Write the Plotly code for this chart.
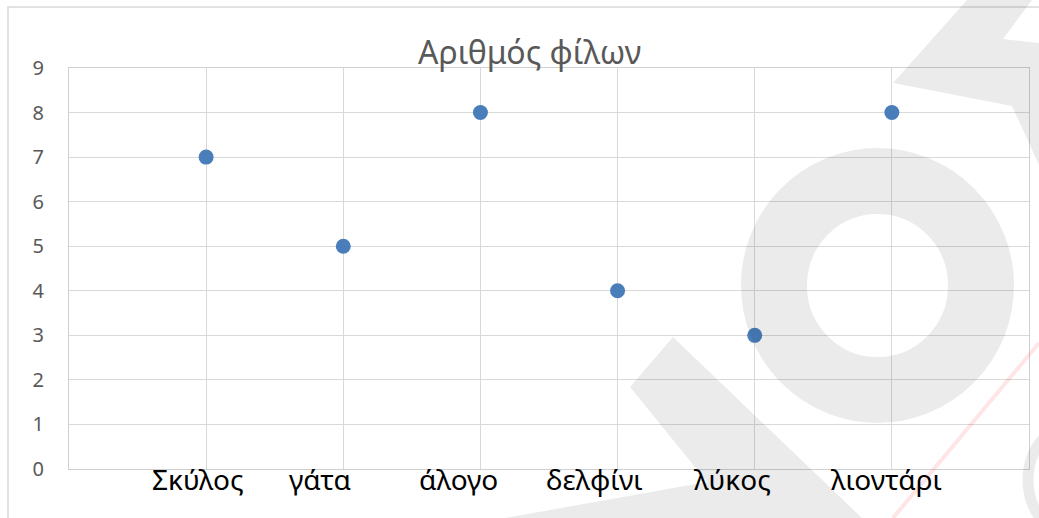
import plotly.graph_objects as go

# ---- data ----
categories = ["Σκύλος", "γάτα", "άλογο", "δελφίνι", "λύκος", "λιοντάρι"]
friends = [7, 5, 8, 4, 3, 8]
y_ticks = [0, 1, 2, 3, 4, 5, 6, 7, 8, 9]
title_text = "Αριθμός φίλων"

# ---- layout constants (pixels) ----
W, H = 1039, 518
L, R, T, B = 69, 1029, 68, 469
label_dx = [-8, -23, -22, -23, -22, -5]

def fx(x):
    return (x - L) / (R - L)

def fy(y):
    return (B - y) / (B - T)

xpos = list(range(1, len(categories) + 1))

fig = go.Figure()
fig.add_trace(go.Scatter(
    x=xpos, y=friends, mode="markers",
    marker=dict(color="#4A7EBB", size=15, line=dict(width=0)),
    showlegend=False, hoverinfo="skip", cliponaxis=False,
))

annotations = []
for i, (c, dx) in enumerate(zip(categories, label_dx)):
    annotations.append(dict(
        x=xpos[i], y=0, xref="x", yref="y", text=c, showarrow=False,
        xanchor="center", yanchor="middle", xshift=dx, yshift=-10,
        font=dict(family="Noto Sans", size=28, color="#000000"),
    ))
annotations.append(dict(
    x=fx(529), y=fy(51), xref="paper", yref="paper", text=title_text,
    showarrow=False, xanchor="center", yanchor="middle",
    font=dict(family="Noto Sans", size=32, color="#595959"),
))

wm = "rgba(0,0,0,0.08)"
shapes = [
    # chart area border
    dict(type="rect", xref="paper", yref="paper", x0=fx(8), y0=fy(7), x1=fx(1060), y1=fy(540),
         line=dict(color="#d9d9d9", width=1.5), fillcolor="rgba(0,0,0,0)", layer="below"),
    # watermark ring
    dict(type="circle", xref="paper", yref="paper", x0=fx(774), x1=fx(981), y0=fy(181), y1=fy(390),
         line=dict(color=wm, width=66), fillcolor="rgba(0,0,0,0)", layer="above"),
    # small ring bottom right
    dict(type="circle", xref="paper", yref="paper", x0=fx(1028), x1=fx(1156), y0=fy(416), y1=fy(544),
         line=dict(color=wm, width=11), fillcolor="rgba(0,0,0,0)", layer="above"),
    # top-right band
    dict(type="path", xref="paper", yref="paper",
         path="M {} {} L {} {} L {} {} L {} {} L {} {} L {} {} L {} {} Z".format(
             fx(967), fy(0), fx(1032), fy(0), fx(1003), fy(39), fx(1039), fy(43),
             fx(1039), fy(165), fx(1012), fy(106), fx(893), fy(83)),
         fillcolor=wm, line=dict(width=0), layer="above"),
    # lower triangle band
    dict(type="path", xref="paper", yref="paper",
         path="M {} {} L {} {} L {} {} L {} {} L {} {} Z".format(
             fx(673), fy(337), fx(862), fy(518), fx(505), fy(518), fx(707), fy(482), fx(630), fy(387)),
         fillcolor=wm, line=dict(width=0), layer="above"),
    # red diagonal line
    dict(type="line", xref="paper", yref="paper", x0=fx(893), y0=fy(518), x1=fx(1039), y1=fy(343),
         line=dict(color="rgba(255,0,0,0.10)", width=4), layer="above"),
]

fig.update_layout(
    width=W, height=H,
    margin=dict(l=L, r=W - R, t=T, b=H - B, pad=0),
    paper_bgcolor="white", plot_bgcolor="white",
    annotations=annotations, shapes=shapes,
    xaxis=dict(range=[0, len(categories) + 1], dtick=1, tick0=0, showticklabels=False,
               showgrid=True, gridcolor="#d9d9d9", gridwidth=1.3, zeroline=False,
               showline=True, linecolor="#d0d0d0", linewidth=1.3, mirror=True, ticks=""),
    yaxis=dict(range=[0, 9], tickvals=y_ticks, showgrid=True, gridcolor="#d9d9d9", gridwidth=1.3,
               zeroline=False, showline=True, linecolor="#d0d0d0", linewidth=1.3, mirror=True,
               ticks="", ticklabelstandoff=20,
               tickfont=dict(family="Noto Sans", size=20, color="#595959")),
)

fig.write_html("out.html")
